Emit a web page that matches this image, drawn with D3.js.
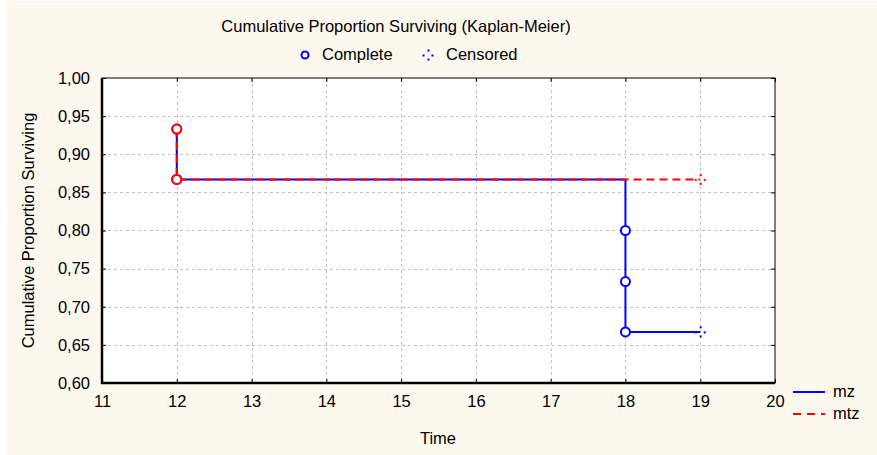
<!DOCTYPE html>
<html>
<head>
<meta charset="utf-8">
<script src="https://cdn.jsdelivr.net/npm/d3@7"></script>
<style>
  body { margin: 0; background: #fff; }
  svg text { font-family: "Liberation Sans", Arial, sans-serif; fill: #000; font-size: 16.5px; }
</style>
</head>
<body>
<script>
// Survival times and proportions
var mzTimes = [12, 12, 18, 18, 18, 19];
var mzValues = [0.933, 0.867, 0.800, 0.733, 0.667, 0.667];
var mzComplete = [true, true, true, true, true, false];

var mtzTimes = [12, 12, 19];
var mtzValues = [0.933, 0.867, 0.867];
var mtzComplete = [true, true, false];

var xTicks = [11, 12, 13, 14, 15, 16, 17, 18, 19, 20];
var yTicks = [0.60, 0.65, 0.70, 0.75, 0.80, 0.85, 0.90, 0.95, 1.00];

window.onload = drawChart;

function drawChart() {

  var width = 877,
    height = 455;

  var plot = { left: 102, top: 78, right: 775, bottom: 383 };

  var svg = d3.select("body")
    .append("svg")
    .attr("width", width)
    .attr("height", height);

  // cream panel
  svg.append("rect")
    .attr("x", 7).attr("y", 1)
    .attr("width", width - 7).attr("height", height - 1)
    .attr("fill", "#fdf8ee");

  var x = d3.scaleLinear().domain([11, 20]).range([plot.left, plot.right]);
  var y = d3.scaleLinear().domain([0.6, 1.0]).range([plot.bottom, plot.top]);

  svg.append("rect")
    .attr("x", plot.left).attr("y", plot.top)
    .attr("width", plot.right - plot.left).attr("height", plot.bottom - plot.top)
    .attr("fill", "#fff");

  // grid
  var grid = svg.append("g")
    .attr("stroke", "#c4c4c4")
    .attr("stroke-width", 1)
    .attr("stroke-dasharray", "3,3");

  grid.selectAll(".gx")
    .data(xTicks.slice(1, -1))
    .enter().append("line")
    .attr("x1", d => Math.round(x(d)) + 0.5).attr("x2", d => Math.round(x(d)) + 0.5)
    .attr("y1", plot.top).attr("y2", plot.bottom);

  grid.selectAll(".gy")
    .data(yTicks.slice(1, -1))
    .enter().append("line")
    .attr("x1", plot.left).attr("x2", plot.right)
    .attr("y1", d => Math.round(y(d)) + 0.5).attr("y2", d => Math.round(y(d)) + 0.5);

  // axes with inward ticks
  var fmt = d => d.toFixed(2).replace(".", ",");

  var xBottom = svg.append("g")
    .attr("transform", "translate(0," + plot.bottom + ")")
    .call(d3.axisBottom(x).tickValues(xTicks).tickSizeInner(-4).tickSizeOuter(0).tickPadding(12));
  var xTop = svg.append("g")
    .attr("transform", "translate(0," + plot.top + ")")
    .call(d3.axisTop(x).tickValues(xTicks).tickSizeInner(-4).tickSizeOuter(0).tickFormat(""));
  var yLeft = svg.append("g")
    .attr("transform", "translate(" + plot.left + ",0)")
    .call(d3.axisLeft(y).tickValues(yTicks).tickSizeInner(-4).tickSizeOuter(0).tickPadding(12).tickFormat(fmt));
  var yRight = svg.append("g")
    .attr("transform", "translate(" + plot.right + ",0)")
    .call(d3.axisRight(y).tickValues(yTicks).tickSizeInner(-4).tickSizeOuter(0).tickFormat(""));

  [xBottom, xTop, yLeft, yRight].forEach(function(g) {
    g.select(".domain").remove();
    g.selectAll("line").attr("stroke", "#000");
    g.selectAll("text").attr("fill", "#000").style("font-size", "16.5px");
    g.attr("font-family", null).attr("font-size", null);
  });

  // frame
  svg.append("rect")
    .attr("x", plot.left).attr("y", plot.top)
    .attr("width", plot.right - plot.left).attr("height", plot.bottom - plot.top)
    .attr("fill", "none").attr("stroke", "#000").attr("stroke-width", 1);
  svg.append("path")
    .attr("d", "M" + plot.left + "," + plot.top + "V" + plot.bottom + "H" + plot.right)
    .attr("fill", "none").attr("stroke", "#000").attr("stroke-width", 2.5);

  // survival curves
  var line = d3.line()
    .x(d => x(d.t))
    .y(d => y(d.v))
    .curve(d3.curveStepAfter);

  function series(times, values, complete) {
    return times.map(function(t, i) { return { t: t, v: values[i], c: complete[i] }; });
  }

  var curves = [
    { name: "mz", color: "#0000ff", dash: null, pts: series(mzTimes, mzValues, mzComplete) },
    { name: "mtz", color: "#ff0000", dash: "8,5", pts: series(mtzTimes, mtzValues, mtzComplete) }
  ];

  curves.forEach(function(c) {
    svg.append("path")
      .datum(c.pts)
      .attr("d", line)
      .attr("fill", "none")
      .attr("stroke", c.color)
      .attr("stroke-width", 2)
      .attr("stroke-dasharray", c.dash);

    svg.selectAll(".complete-" + c.name)
      .data(c.pts.filter(d => d.c))
      .enter().append("circle")
      .attr("cx", d => x(d.t)).attr("cy", d => y(d.v))
      .attr("r", 4.5)
      .attr("fill", "#fff")
      .attr("stroke", c.color)
      .attr("stroke-width", 2);

    c.pts.filter(d => !d.c).forEach(function(d) {
      censorMark(svg, x(d.t), y(d.v), c.color);
    });
  });

  function censorMark(g, cx, cy, color) {
    [[0, -5], [0, 4], [-5, 0], [4, 0]].forEach(function(o) {
      g.append("rect")
        .attr("x", cx + o[0] - 0.5).attr("y", cy + o[1] - 0.5)
        .attr("width", 2).attr("height", 2)
        .attr("fill", color);
    });
  }

  // titles
  svg.append("text")
    .attr("x", 396).attr("y", 32)
    .attr("text-anchor", "middle")
    .text("Cumulative Proportion Surviving (Kaplan-Meier)");

  svg.append("text")
    .attr("x", 438).attr("y", 444)
    .attr("text-anchor", "middle")
    .text("Time");

  svg.append("text")
    .attr("transform", "translate(34," + ((plot.top + plot.bottom) / 2) + ") rotate(-90)")
    .attr("text-anchor", "middle")
    .text("Cumulative Proportion Surviving");

  // top legend
  svg.append("circle")
    .attr("cx", 305).attr("cy", 55).attr("r", 3.5)
    .attr("fill", "#fff").attr("stroke", "#0000ff").attr("stroke-width", 2);
  svg.append("text").attr("x", 322).attr("y", 60).text("Complete");
  censorMark(svg, 428, 55, "#0000ff");
  svg.append("text").attr("x", 446).attr("y", 60).text("Censored");

  // series legend
  var leg = svg.selectAll(".leg")
    .data(curves)
    .enter().append("g")
    .attr("transform", (d, i) => "translate(793," + (392 + i * 22) + ")");
  leg.append("line")
    .attr("x1", 0).attr("x2", 32)
    .attr("stroke", d => d.color)
    .attr("stroke-width", 2)
    .attr("stroke-dasharray", d => d.dash ? "8,6" : null);
  leg.append("text")
    .attr("x", 40).attr("y", 5)
    .text(d => d.name);
}
</script>
</body>
</html>
